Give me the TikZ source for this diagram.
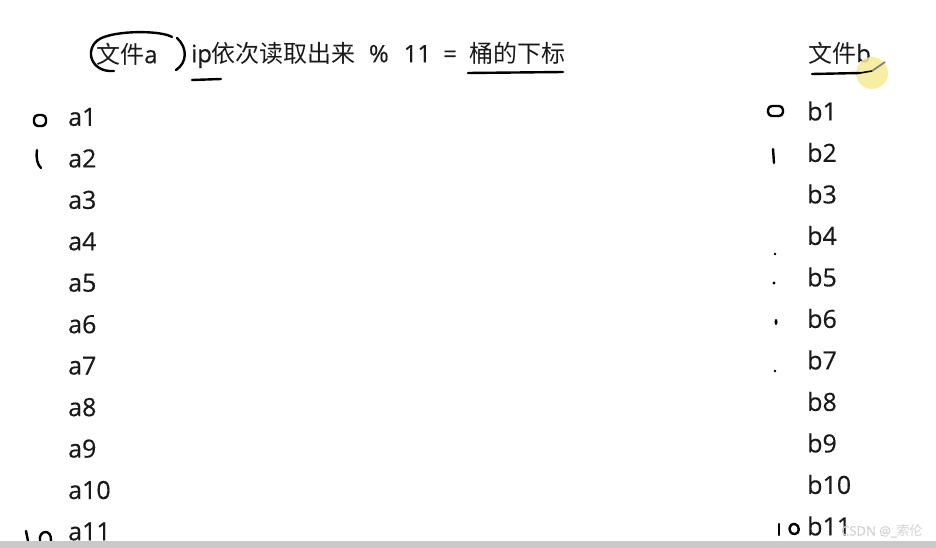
\documentclass[tikz,border=0pt]{standalone}
\usepackage{fontspec}
\setmainfont{Open Sans}[FakeBold=0.4]
\newfontfamily\cjk{Noto Sans CJK SC}
\usetikzlibrary{positioning}

\definecolor{ink}{HTML}{1A1A1A}
\definecolor{barcol}{HTML}{C9C9C9}
\definecolor{hilite}{HTML}{F6EC94}

\tikzset{
  item/.style={anchor=west, inner sep=0pt, text=ink, font=\fontsize{25}{28}\selectfont},
  head/.style={anchor=west, inner sep=0pt, text=ink, font=\fontsize{24}{28}\selectfont},
  pen/.style={draw=black, line width=2.4pt, line cap=round, line join=round},
}

\begin{document}
\begin{tikzpicture}[x=1pt, y=-1pt]
  \useasboundingbox (0,0) rectangle (936,548);
  \clip (0,0) rectangle (936,548);
  \fill[white] (0,0) rectangle (936,548);

  % titles
  \node[head] (fa) at (96,54) {{\cjk 文件}a};
  \node[head] (formula) at (191,55) {ip{\cjk 依次读取出来}\hspace{13pt}\%\hspace{15pt}11\hspace{12pt}=\hspace{13pt}{\cjk 桶的下标}};
  \node[head] (fb) at (808,53) {{\cjk 文件}b};

  % the two columns
  \foreach \i in {1,...,11}
    \node[item] (a\i) at (68, {117+41.45*(\i-1)}) {a\i};
  \foreach \i in {1,...,11}
    \node[item] (b\i) at (807, {111+41.5*(\i-1)}) {b\i};

  % loop round "文件a"
  \draw[pen] (114,71) .. controls (88,73) and (83,44) .. (104,37)
             .. controls (124,30) and (162,31) .. (172,37);
  \draw[pen] (177,38) .. controls (188,48) and (187,63) .. (176,70);

  % underlines
  \draw[pen] (192,80) -- (221,79);
  \draw[pen] (468,73) -- (563,72);
  \fill[hilite, opacity=.85] (872,73) circle (16);
  \draw[pen] (812,74) -- (860,73);
  \draw[pen, line width=1.6pt] (860,73) -- (872,71);
  \draw[draw=gray, line width=1.8pt] (872,71) -- (885,62);

  % hand numbers, left side
  \draw[pen, rounded corners=4pt] (34,126) rectangle (46,115);
  \draw[pen] (37,150) .. controls (36,158) and (37,164) .. (41,168);
  \draw[pen] (26,531) -- (28,541);
  \draw[pen] (40,541) .. controls (38,530) and (52,528) .. (51,541);

  % hand numbers, right side
  \draw[pen, rounded corners=4pt] (768,116) rectangle (783,106);
  \draw[pen] (773,149) -- (774,163);
  \fill[black] (775,254) circle (1.4);
  \fill[black] (774,283) circle (1.6);
  \fill[black] (776,322) ellipse (1.5 and 3);
  \fill[black] (775,371) circle (1.4);
  \draw[pen] (779,524) -- (779,535);
  \draw[pen] (795,534) .. controls (787,534) and (788,523) .. (795,524)
             .. controls (800,525) and (800,534) .. (795,534);

  % bottom bar and mark
  \fill[barcol] (0,541) rectangle (936,548);
  \node[anchor=west, inner sep=0pt, text=white!65!gray,
        font=\fontsize{13}{15}\selectfont] (mark) at (841,531) {CSDN @\_{\cjk 索伦}};
\end{tikzpicture}
\end{document}
